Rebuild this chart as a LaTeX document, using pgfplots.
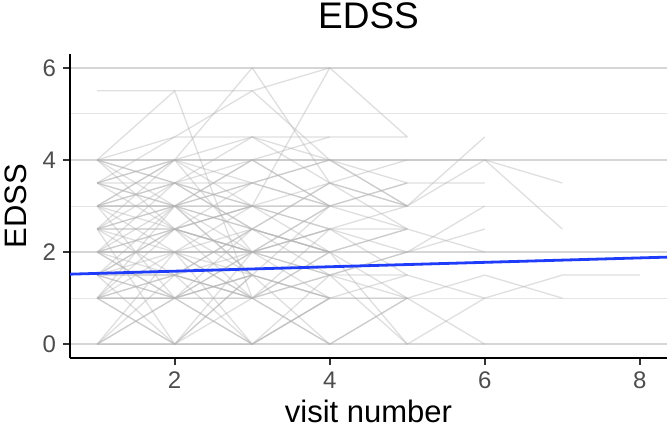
\documentclass[border=0pt]{standalone}
\usepackage{fontspec}
\setmainfont{Liberation Sans}
\usepackage{pgfplots}
\pgfplotsset{compat=1.18}
\definecolor{fitblue}{RGB}{30,60,250}
\definecolor{tickgray}{RGB}{77,77,77}
\begin{document}
\begin{tikzpicture}
\begin{axis}[
  name=ax,
  scale only axis,
  width=298.5pt, height=152pt,
  xmin=0.65, xmax=8.35, ymin=-0.3, ymax=6.3,
  axis x line*=bottom, axis y line*=left,
  axis line style={line width=1.4pt, black},
  xtick={2,4,6,8}, ytick={0,2,4,6},
  minor ytick={1,3,5},
  ymajorgrids, yminorgrids,
  major grid style={line width=0.7pt, color=black!16},
  minor grid style={line width=0.5pt, color=black!10},
  tick align=outside,
  major tick length=3.5pt, minor tick length=0pt,
  tick style={line width=1pt, black!80},
  /pgf/number format/assume math mode=true,
  ticklabel style={font=\fontsize{12}{14}\selectfont, text=tickgray},
  xlabel={visit number}, ylabel={EDSS},
  label style={font=\fontsize{15.5}{18}\selectfont},
  xlabel style={at={(axis description cs:0.5,-0.175)}, anchor=center},
  ylabel style={at={(axis description cs:-0.0905,0.5)}, anchor=center},
  subj/.style={color=black!30, opacity=0.42, line width=0.65pt, forget plot},
  clip=true,
]
\addplot[subj] coordinates {(1,5.5)(2,5.5)(3,5.5)(4,6)(5,4.5)};
\addplot[subj] coordinates {(1,4)(2,5.5)(3,1)(4,2)};
\addplot[subj] coordinates {(1,4)(2,4.5)(3,4.5)(4,4.5)(5,4.5)};
\addplot[subj] coordinates {(1,3)(2,4)(3,6)(4,3.5)(5,3)};
\addplot[subj] coordinates {(1,3.5)(2,4.5)(3,5.5)(4,4)(5,3)};
\addplot[subj] coordinates {(1,2)(2,2.5)(3,3)(4,6)};
\addplot[subj] coordinates {(1,4)(2,4)(3,4)(4,4)(5,3.5)(6,3.5)};
\addplot[subj] coordinates {(1,3.5)(2,3.5)(3,3)(4,3.5)(5,3)(6,4.5)};
\addplot[subj] coordinates {(1,3)(2,3.5)(3,3.5)(4,3)(5,3)(6,4)(7,3.5)};
\addplot[subj] coordinates {(1,2.5)(2,3)(3,3.5)(4,4)(5,4)(6,4)(7,2.5)};
\addplot[subj] coordinates {(1,1)(2,1.5)(3,2)(4,2.5)(5,2)(6,2.5)};
\addplot[subj] coordinates {(1,1.5)(2,1)(3,1.5)(4,1)(5,1)(6,1.5)(7,1)};
\addplot[subj] coordinates {(1,1)(2,1)(3,1)(4,1.5)(5,1.5)(6,1)(7,1.5)(8,1.5)};
\addplot[subj] coordinates {(1,2)(2,2)(3,2.5)(4,2)(5,1)(6,0)};
\addplot[subj] coordinates {(1,0)(2,1)(3,0)(4,1)(5,1.5)};
\addplot[subj] coordinates {(1,1)(2,0)(3,1)(4,2)(5,0)};
\addplot[subj] coordinates {(1,2.5)(2,2)(3,2)(4,1.5)(5,2)(6,3)};
\addplot[subj] coordinates {(1,3)(2,2.5)(3,2)(4,2.5)(5,2.5)(6,2)};
\addplot[subj] coordinates {(1,1.5)(2,2.5)(3,1.5)(4,0)(5,1)};
\addplot[subj] coordinates {(1,4)(2,3)(3,3.5)(4,3)(5,2.5)};
\addplot[subj] coordinates {(1,3.5)(2,3)(3,2.5)(4,3.5)(5,4)};
\addplot[subj] coordinates {(1,2)(2,3)(3,2)(4,3)(5,3.5)};
\addplot[subj] coordinates {(1,1)(2,2)(3,1)(4,0)(5,1)};
\addplot[subj] coordinates {(1,0)(2,0)(3,0)(4,1)};
\addplot[subj] coordinates {(1,2.5)(2,1.5)(3,2.5)(4,2)(5,2.5)};
\addplot[subj] coordinates {(1,1.5)(2,2)(3,3)(4,2.5)};
\addplot[subj] coordinates {(1,3)(2,2)(3,1.5)(4,1)};
\addplot[subj] coordinates {(1,4)(2,3.5)(3,4)(4,4.5)};
\addplot[subj] coordinates {(1,2)(2,1)(3,2)(4,1.5)};
\addplot[subj] coordinates {(1,1)(2,2.5)(3,2)(4,1)};
\addplot[subj] coordinates {(1,2.5)(2,3.5)(3,2.5)(4,2)};
\addplot[subj] coordinates {(1,3.5)(2,2.5)(3,3)(4,2)};
\addplot[subj] coordinates {(1,1.5)(2,1.5)(3,0)(4,1)};
\addplot[subj] coordinates {(1,0)(2,1.5)(3,1)(4,0)};
\addplot[subj] coordinates {(1,2)(2,1.5)(3,1)(4,2.5)};
\addplot[subj] coordinates {(1,3)(2,3)(3,4)(4,3)};
\addplot[subj] coordinates {(1,1)(2,1)(3,1.5)};
\addplot[subj] coordinates {(1,2.5)(2,2.5)(3,3.5)};
\addplot[subj] coordinates {(1,4)(2,2.5)(3,3)};
\addplot[subj] coordinates {(1,1.5)(2,0)(3,1.5)};
\addplot[subj] coordinates {(1,2)(2,2)(3,0)};
\addplot[subj] coordinates {(1,3.5)(2,4)(3,2)};
\addplot[subj] coordinates {(1,0)(2,2)(3,1)};
\addplot[subj] coordinates {(1,1)(2,3)(3,2.5)};
\addplot[subj] coordinates {(1,2.5)(2,4)(3,4.5)(4,4)};
\addplot[subj] coordinates {(1,3)(2,1)(3,2)};
\addplot[subj] coordinates {(1,2)(2,3.5)(3,3)};
\addplot[subj] coordinates {(1,1.5)(2,3)(3,1.5)};
\addplot[subj] coordinates {(1,4)(2,3.5)(3,4.5)(4,3.5)};
\addplot[subj] coordinates {(1,3.5)(2,4)(3,3.5)(4,4)(5,3)};
\addplot[subj] coordinates {(1,2)(2,2.5)(3,1)};
\addplot[subj] coordinates {(1,1.5)(2,2.5)(3,2)(4,3)};
\addplot[subj] coordinates {(1,3)(2,4)(3,3)(4,2.5)(5,3)};
\addplot[subj] coordinates {(1,2.5)(2,3)(3,1.5)(4,3)};
\addplot[subj] coordinates {(1,1)(2,1.5)(3,1)(4,1.5)(5,0)(6,1)};
\addplot[subj] coordinates {(1,2.5)(2,0)(3,2)};
\addplot[subj] coordinates {(1,1)(2,0)(3,1.5)};
\addplot[subj] coordinates {(1,0)(2,1)(3,1.5)(4,1)};
\addplot[subj] coordinates {(1,1.5)(2,1)(3,0)(4,1.5)(5,1)};
\addplot[subj] coordinates {(1,3)(2,3.5)(3,2.5)(4,3.5)(5,2.5)};
\addplot[subj] coordinates {(1,2)(2,1)(3,2.5)(4,1.5)(5,2)};
\addplot[subj] coordinates {(1,3.5)(2,3)(3,4)(4,3)(5,3.5)};
\addplot[subj] coordinates {(1,2)(2,2)(3,2)(4,2.5)(5,1.5)};
\addplot[subj] coordinates {(1,3)(2,3)(3,3)(4,3)};
\addplot[subj] coordinates {(1,1.5)(2,1.5)(3,2.5)(4,2)};
\addplot[subj] coordinates {(1,2.5)(2,2.5)(3,2)(4,2)(5,2.5)};
\addplot[color=fitblue, line width=1.4pt] coordinates {(0.65,1.52)(8.35,1.89)};
\end{axis}
\node[font=\fontsize{18.5}{22}\selectfont, anchor=center] at ([yshift=19pt]ax.north) {EDSS};
\pgfresetboundingbox
\path ([shift={(-35pt,-37.5pt)}]ax.south west) rectangle ([shift={(1pt,27pt)}]ax.north east);
\end{tikzpicture}
\end{document}
